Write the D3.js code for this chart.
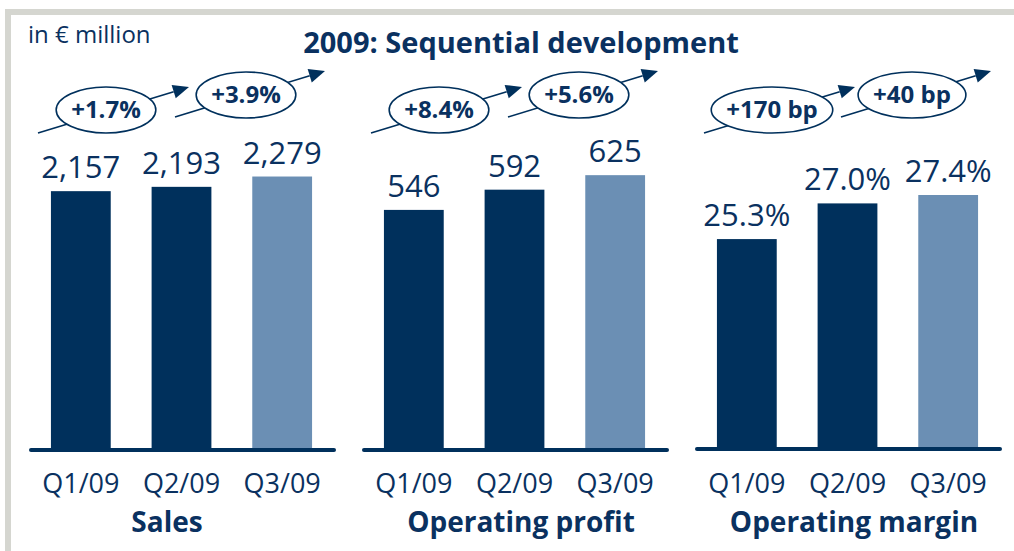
<!DOCTYPE html>
<html>
<head>
<meta charset="utf-8">
<script src="https://cdn.jsdelivr.net/npm/d3@7"></script>
<style>
  body { margin: 0; background: #fff; }
  svg text { font-family: "Open Sans", "Liberation Sans", sans-serif; fill: #0a3160; }
</style>
</head>
<body>
<div id="chart"></div>
<script>
// data
var quarters = ["Q1/09", "Q2/09", "Q3/09"];
var panelTitles = ["Sales", "Operating profit", "Operating margin"];
var salesValues = [2157, 2193, 2279];
var profitValues = [546, 592, 625];
var marginValues = [25.3, 27.0, 27.4];
var salesLabels = ["2,157", "2,193", "2,279"];
var profitLabels = ["546", "592", "625"];
var marginLabels = ["25.3%", "27.0%", "27.4%"];
var salesChanges = ["+1.7%", "+3.9%"];
var profitChanges = ["+8.4%", "+5.6%"];
var marginChanges = ["+170 bp", "+40 bp"];

var svgWidth = 1014;
var svgHeight = 551;

var dark = "#00305c";
var light = "#6b8fb4";

var svg = d3.select("#chart")
  .append("svg")
  .attr("width", svgWidth)
  .attr("height", svgHeight);

// grey frame on top and left
svg.append("rect").attr("x", 5).attr("y", 9).attr("width", svgWidth - 5).attr("height", 6).attr("fill", "#d5d6d0");
svg.append("rect").attr("x", 5).attr("y", 9).attr("width", 6).attr("height", svgHeight - 9).attr("fill", "#d5d6d0");

svg.append("text")
  .attr("x", 28).attr("y", 43)
  .style("font-size", "24px")
  .text("in € million");

svg.append("text")
  .attr("x", 521).attr("y", 53)
  .attr("text-anchor", "middle")
  .style("font-size", "29px").style("font-weight", "bold")
  .text("2009: Sequential development");

var panels = [
  { values: salesValues, labels: salesLabels, changes: salesChanges, domain: [0, 2250], base: 450, top: 180, titleDx: -14 },
  { values: profitValues, labels: profitLabels, changes: profitChanges, domain: [0, 614], base: 450, top: 180, titleDx: 7 },
  { values: marginValues, labels: marginLabels, changes: marginChanges, domain: [15.3, 27.4], base: 449, top: 195, titleDx: 7 }
];

var panelScale = d3.scaleBand()
  .domain(panelTitles)
  .range([0, 999])
  .padding(0);

var xScale = d3.scaleBand()
  .domain(quarters)
  .range([30.5, 332.5])
  .paddingInner(0.406)
  .paddingOuter(0.203);

panels.forEach(function(p, i) {
  var g = svg.append("g")
    .attr("transform", `translate(${panelScale(panelTitles[i])}, 0)`);

  var yScale = d3.scaleLinear()
    .domain(p.domain)
    .range([p.base, p.top]);

  // bars
  g.selectAll("rect.bar")
    .data(p.values)
    .enter()
    .append("rect")
    .attr("class", "bar")
    .attr("x", (d, j) => xScale(quarters[j]))
    .attr("y", d => yScale(d))
    .attr("width", xScale.bandwidth())
    .attr("height", d => p.base - yScale(d))
    .attr("fill", (d, j) => j == 2 ? light : dark);

  // value labels
  g.selectAll("text.val")
    .data(p.values)
    .enter()
    .append("text")
    .attr("class", "val")
    .attr("x", (d, j) => xScale(quarters[j]) + xScale.bandwidth() / 2)
    .attr("y", d => yScale(d) - 13)
    .attr("text-anchor", "middle")
    .style("font-size", "31px")
    .text((d, j) => p.labels[j]);

  // baseline
  g.append("line")
    .attr("x1", 31).attr("x2", 334)
    .attr("y1", p.base).attr("y2", p.base)
    .attr("stroke", dark).attr("stroke-width", 4)
    .attr("stroke-linecap", "round");

  // quarter labels
  g.selectAll("text.q")
    .data(quarters)
    .enter()
    .append("text")
    .attr("class", "q")
    .attr("x", d => xScale(d) + xScale.bandwidth() / 2)
    .attr("y", 493)
    .attr("text-anchor", "middle")
    .style("font-size", "27px")
    .text(d => d);

  // panel title
  g.append("text")
    .attr("x", 181 + p.titleDx).attr("y", 532)
    .attr("text-anchor", "middle")
    .style("font-size", "28px").style("font-weight", "bold")
    .text(panelTitles[i]);

  // change arrows with ellipses
  var arrows = [
    { x1: 38, y1: 133, x2: 189, y2: 87, cx: 106, cy: 110 },
    { x1: 175, y1: 117, x2: 325, y2: 71, cx: 246, cy: 95 }
  ];
  arrows.forEach(function(a, k) {
    var ang = Math.atan2(a.y2 - a.y1, a.x2 - a.x1);
    var hl = 16, hw = 7;
    var bx = a.x2 - hl * Math.cos(ang), by = a.y2 - hl * Math.sin(ang);
    g.append("line")
      .attr("x1", a.x1).attr("y1", a.y1).attr("x2", bx).attr("y2", by)
      .attr("stroke", dark).attr("stroke-width", 1.6);
    g.append("path")
      .attr("d", `M${a.x2},${a.y2}L${bx - hw * Math.sin(ang)},${by + hw * Math.cos(ang)}L${bx + hw * Math.sin(ang)},${by - hw * Math.cos(ang)}Z`)
      .attr("fill", dark);
    var ell = g.append("ellipse")
      .attr("cx", a.cx).attr("cy", a.cy)
      .attr("ry", 23)
      .attr("fill", "#fff")
      .attr("stroke", dark).attr("stroke-width", 1.6);
    var t = g.append("text")
      .attr("x", a.cx).attr("y", a.cy + 8)
      .attr("text-anchor", "middle")
      .style("font-size", "24px").style("font-weight", "bold")
      .text(p.changes[k]);
    var w = t.node().getComputedTextLength();
    ell.attr("rx", w / 2 + 15);
  });
});
</script>
</body>
</html>
